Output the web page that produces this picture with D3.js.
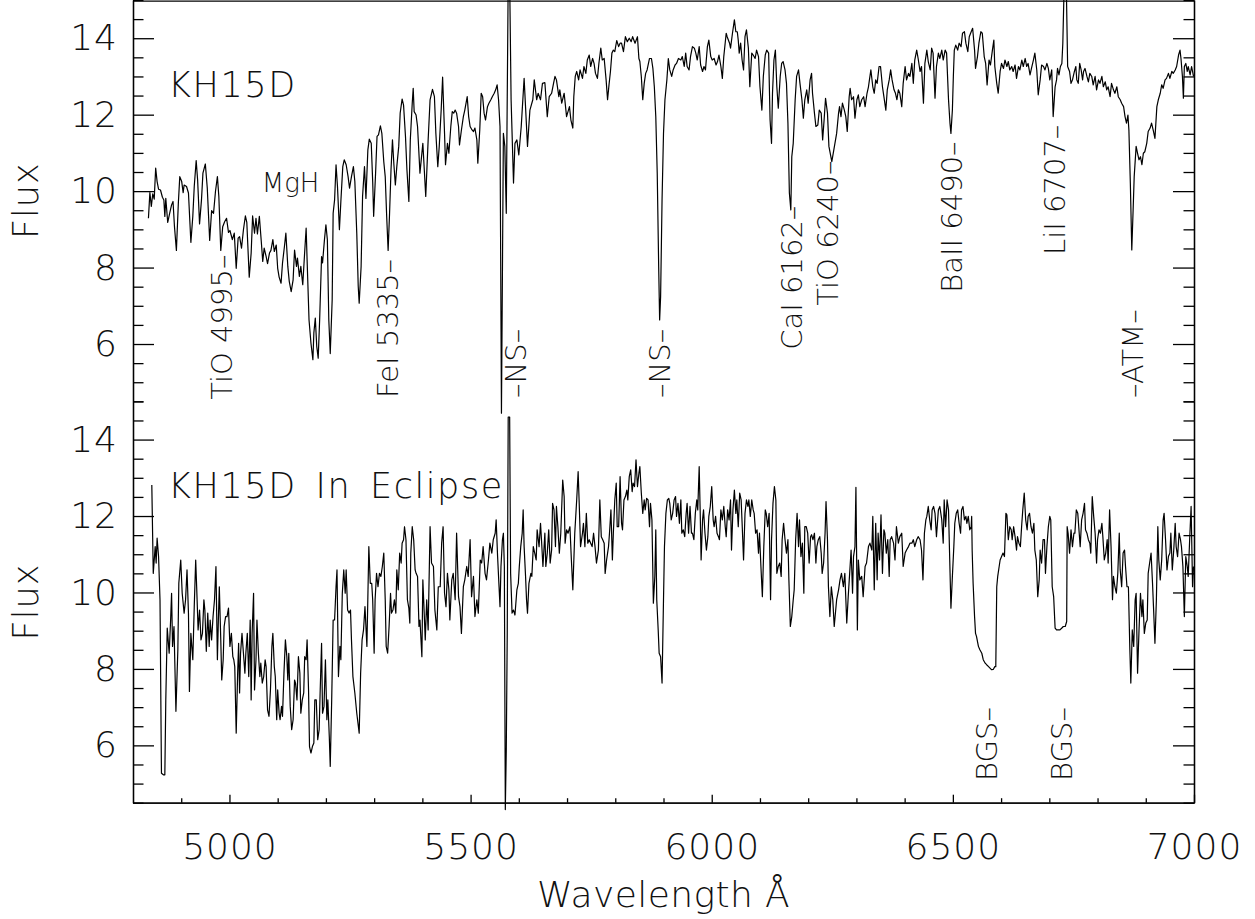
<!DOCTYPE html>
<html><head><meta charset="utf-8">
<script src="https://cdn.jsdelivr.net/npm/d3@7"></script>
<style>
body{margin:0;background:#fff}
text{font-family:"DejaVu Sans",sans-serif;font-weight:200;fill:#111}
</style>
</head><body>
<svg id="chart" width="1255" height="919"></svg>
<script>
// ---- Spectrum of KH15D (out of eclipse) ----
const topWave = [4832,4835,4838,4841,4844,4847,4850,4853,4857,4861,4864,4866,4868,4872,4876,4880,4883,4886,4890,4894,4897,4901,4904,4906,4911,4915,4920,4924,4927,4931,4934,4938,4942,4945,4950,4954,4959,4963,4967,4971,4975,4978,4982,4986,4990,4994,4998,5001,5006,5010,5014,5018,5021,5025,5029,5033,5036,5041,5045,5048,5052,5055,5058,5062,5066,5069,5072,5076,5079,5083,5086,5090,5093,5097,5100,5103,5107,5110,5114,5117,5121,5124,5128,5132,5135,5139,5141,5145,5148,5152,5155,5159,5161,5165,5169,5173,5175,5178,5181,5184,5187,5191,5193,5197,5200,5203,5206,5209,5213,5215,5218,5221,5224,5228,5231,5235,5238,5242,5246,5249,5253,5257,5260,5264,5267,5269,5273,5276,5280,5283,5287,5290,5294,5297,5299,5303,5306,5309,5313,5316,5320,5323,5326,5329,5332,5335,5338,5341,5344,5347,5351,5354,5358,5361,5365,5368,5372,5375,5379,5381,5383,5387,5390,
5395,5401,5407,5412,5416,5421,5425,5428,5432,5435,5439,5442,5446,5448,5452,5455,5459,5462,5465,5468,5471,5475,5477,5481,5485,5488,5493,5496,5499,5503,5506,5509,5513,5515,5519,5522,5525,5528,5531,5535,5538,5542,5545,5549,5552,5555,5558,5561,5564,5568,5571,5574,5578,5581,5584,5589,5592,5596,5600,5605,5611,5618,5623,5629,5632,5637,5640,5645,5649,5654,5659,5663,5668,5672,5675,5678,5683,5685,5689,5694,5699,5705,5708,5712,5714,5717,5720,5724,5727,5732,5735,5739,5742,5746,5749,5753,5756,5759,5763,5766,5770,5773,5777,5781,5784,5787,5790,5793,5796,5799,5803,5807,5810,5813,5817,5821,5825,5829,5833,5836,5841,5846,5849,5851,5854,5857,5860,5863,5866,5871,5875,5878,5881,5884,5887,5890,5892,5894,5897,5900,5903,5907,5910,5913,5917,5920,5924,5927,5931,5936,5939,5943,5946,5949,5953,5956,5960,5964,5967,5970,5974,5977,5981,5984,5987,5991,5994,5998,6001,6005,6009,6012,6015,6019,6022,6025,6030,6032,6037,6039,6043,6047,6050,6053,6055,6057,6060,6063,6066,6069,6072,6076,6079,6083,6086,6090,6093,6097,6100,6104,6107,6111,6114,6118,6121,6124,6126,6129,6132,6135,6138,6142,6145,6148,6152,6155,6158,6161,6164,6166,6169,6173,6176,6180,6183,6187,6190,6193,6197,6200,6204,6207,6209,6213,6216,6220,6223,6227,6230,6233,6236,6240,6243,6249,
6259,6263,6265,6268,6271,6275,6278,6281,6285,6287,6290,6294,6297,6301,6304,6307,6311,6315,6318,6322,6325,6327,6330,6334,6337,6340,6343,6347,6350,6354,6357,6361,6364,6368,6371,6374,6378,6381,6384,6387,6390,6394,6397,6401,6404,6408,6411,6415,6418,6421,6425,6428,6432,6435,6439,6442,6446,6449,6453,6456,6459,6463,6466,6470,6473,6477,6480,6484,6487,6491,6494,6496,6499,6501,6503,6506,6510,6513,6517,6520,6524,6527,6531,6534,6538,6541,6545,6547,6551,6554,6558,6561,6565,6568,6571,6575,6578,6582,6585,6587,6591,6594,6598,6601,6605,6608,6612,6615,6618,6622,6625,6629,6632,6636,6639,6643,6646,6650,6653,6656,6660,6663,6667,6670,6674,6677,6681,6684,6688,6691,6695,6698,6701,6705,6708,6712,6715,6717,6720,6723,6726,6728,6731,6735,6738,6742,6745,6748,6752,6755,6757,6760,6763,6766,6769,6771,6774,6778,6781,6784,6788,6791,6795,6798,6802,6805,6809,6812,6816,6819,6822,6826,6829,6833,6836,6840,6843,6847,6850,6854,6857,6860,6863,6865,6868,6871,6874,6876,6880,6883,6886,6889,6892,6895,6898,6902,6905,6909,6912,6916,6919,6923,6926,6930,6933,6936,6940,6943,6947,6950,6954,6957,6961,6964,6968,6971,6973,6976,6978,6980,6983,6986,6988,6992,6995,6999];
const topFlux = [9.29,9.96,9.60,9.93,9.79,10.60,10.25,10.05,10.03,9.84,9.77,9.34,9.81,9.18,9.42,9.64,9.73,9.07,8.45,9.68,10.38,10.25,9.96,10.16,10.12,9.95,8.66,9.34,10.12,10.80,10.29,9.14,9.77,10.47,10.71,10.08,8.71,9.49,9.42,9.99,10.38,9.86,8.45,9.07,9.20,9.29,8.92,8.97,8.73,8.90,7.98,8.77,8.81,8.51,8.99,9.35,9.18,7.75,8.38,9.35,8.90,9.29,8.88,9.34,8.68,8.16,8.51,8.29,8.10,8.38,8.45,8.73,8.42,8.59,7.98,7.75,7.59,8.12,8.55,8.90,8.03,7.64,7.37,7.68,8.46,8.03,8.25,7.77,8.03,7.55,8.20,9.03,8.20,6.63,6.02,5.59,6.29,6.68,5.94,5.63,6.63,8.29,8.12,8.73,9.12,8.73,6.63,5.75,7.16,9.42,9.77,10.69,10.12,8.99,9.73,10.64,10.82,10.69,10.38,10.08,10.38,10.64,10.25,8.90,7.51,7.07,8.03,9.86,10.64,9.81,11.08,11.36,11.25,10.25,9.34,10.47,11.43,11.47,11.71,11.51,10.77,10.38,9.34,8.45,9.42,10.56,11.34,10.69,10.16,10.64,11.17,12.04,12.41,12.25,11.43,10.56,9.73,11.34,12.30,12.69,12.08,11.99,11.69,
10.47,11.25,9.86,11.34,12.39,12.66,12.47,11.51,10.64,11.17,12.12,12.98,11.51,10.69,11.25,10.99,11.69,12.08,12.04,12.12,12.04,11.69,11.21,11.60,11.95,12.12,12.47,11.95,11.69,11.60,11.56,11.65,11.34,10.73,11.60,12.56,12.47,12.04,11.86,12.21,12.30,12.39,12.47,12.56,12.65,12.78,12.39,11.69,4.19,11.51,11.17,9.42,15.52,15.52,12.39,10.21,11.25,11.34,10.95,11.69,12.95,11.17,12.12,12.39,12.91,12.39,12.56,12.39,12.82,12.84,11.95,12.47,12.56,12.82,13.00,12.91,12.47,12.65,12.30,12.56,11.95,12.21,11.86,11.65,12.47,13.00,13.13,12.91,13.17,12.95,13.26,13.08,13.43,13.56,13.26,13.47,13.34,13.08,12.95,13.34,13.74,13.43,13.47,12.91,12.39,12.78,13.13,13.61,13.69,13.65,13.94,13.78,13.87,13.87,13.65,14.04,13.91,14.00,13.91,14.04,13.87,14.04,13.47,13.39,13.00,12.39,12.82,13.08,13.17,13.47,13.47,13.21,12.73,11.95,10.47,8.03,6.63,7.24,9.77,11.51,12.39,12.91,13.47,13.17,13.00,13.17,13.30,13.34,13.47,13.43,13.52,13.26,13.61,13.26,13.17,13.52,13.78,13.74,13.61,13.43,13.78,13.30,13.13,13.26,13.17,13.78,13.95,13.52,13.43,13.47,13.30,13.39,13.56,13.26,12.95,13.52,14.13,14.04,13.87,13.74,14.13,14.48,14.17,14.17,13.95,13.61,13.87,13.43,13.17,14.04,14.22,13.74,12.73,13.61,13.56,13.47,13.69,13.52,12.73,12.12,13.00,13.56,13.69,13.61,11.86,11.25,12.56,13.43,13.69,12.73,12.17,13.00,13.34,13.39,13.17,12.82,11.78,9.95,9.51,10.90,11.25,12.39,13.00,13.17,12.82,12.39,11.91,12.39,12.65,12.30,12.91,13.08,12.56,12.04,11.69,11.73,12.12,12.04,11.34,11.86,12.43,12.04,11.17,10.77,
11.51,12.04,12.21,11.95,12.30,12.12,11.95,11.56,12.47,12.69,12.39,12.47,11.91,12.39,12.52,12.21,12.39,12.47,12.21,12.56,12.73,12.91,13.17,12.73,12.56,12.91,12.82,13.26,13.26,12.73,12.47,12.12,12.65,12.91,13.17,12.91,12.65,12.56,12.39,12.65,12.56,12.21,12.82,13.26,12.91,13.08,13.00,13.34,12.82,13.43,13.69,13.47,13.13,13.26,12.30,13.34,13.69,13.39,13.17,13.74,13.61,12.43,13.26,13.61,13.47,13.69,13.43,13.69,13.61,12.39,11.78,11.51,12.12,13.00,13.69,13.82,13.69,13.87,13.78,14.13,14.17,13.87,13.65,14.04,14.17,14.26,13.69,13.21,13.52,13.87,14.17,14.13,13.52,13.34,12.78,13.43,13.30,13.69,13.95,13.26,12.82,12.56,13.13,13.34,13.21,13.43,13.26,13.39,13.17,13.26,13.13,13.30,12.95,13.26,13.17,13.43,13.26,13.47,13.26,13.34,13.04,13.21,13.43,13.61,13.17,12.52,12.91,13.30,13.26,13.17,13.34,13.21,12.91,13.17,11.95,12.73,12.91,13.21,13.04,13.26,13.34,13.87,15.52,15.52,13.26,13.13,12.82,12.91,13.13,13.26,12.91,12.82,13.34,13.17,12.91,13.13,13.21,13.00,12.86,13.08,13.00,12.78,13.00,12.65,12.91,12.82,13.00,12.73,12.86,12.65,12.73,12.47,12.82,12.65,12.56,12.73,12.47,12.39,12.30,12.21,11.95,11.78,11.99,11.60,10.21,8.46,9.60,10.38,11.17,10.99,10.82,10.90,10.69,10.99,11.03,11.25,11.56,11.65,11.78,11.56,11.38,12.21,12.39,12.56,12.78,12.69,12.91,12.95,13.08,12.95,13.13,13.08,13.17,13.26,13.56,13.69,13.47,13.00,12.43,13.26,13.34,13.13,13.26,13.04,13.26,13.00];

// ---- Spectrum of KH15D in eclipse ----
const eclWave = [4839,4842,4846,4848,4850,4853,4856,4859,4863,4866,4868,4871,4875,4878,4880,4882,4885,4889,4893,4895,4899,4902,4906,4909,4912,4915,4917,4920,4924,4927,4930,4932,4935,4938,4941,4944,4947,4949,4952,4955,4958,4960,4963,4966,4969,4972,4975,4977,4979,4982,4984,4987,4989,4992,4995,4998,5001,5004,5007,5009,5011,5014,5017,5019,5021,5023,5026,5029,5032,5034,5037,5040,5043,5045,5047,5050,5052,5055,5057,5060,5063,5065,5068,5071,5074,5076,5079,5082,5085,5088,5090,5093,5095,5098,5100,5103,5105,5108,5110,5113,5116,5119,5121,5123,5126,5129,5132,5135,5137,5140,5143,5146,5148,5151,5154,5156,5159,5161,5164,5166,5169,5172,5175,5177,5180,5183,5186,5188,5191,5193,5196,5199,5202,5204,5207,5209,5212,5215,5218,5221,5223,5226,5229,5231,5234,5237,5240,5242,5245,5248,5251,5253,5256,5260,5264,5269,5272,5275,5278,5281,5285,5287,5289,5292,5295,5297,5300,5302,5305,5308,5311,5314,5317,5320,5323,5325,5328,5331,5334,5336,5339,5342,5345,5347,5350,5353,5356,5358,5361,5363,5366,5369,5372,5374,5376,5379,5382,5385,5387,5390,5393,
5395,5399,5401,5403,5406,5409,5412,5416,5419,5423,5426,5430,5433,5437,5440,5443,5446,5449,5452,5455,5457,5461,5464,5468,5471,5475,5478,5481,5485,5488,5492,5495,5499,5502,5506,5509,5513,5516,5520,5523,5526,5530,5533,5537,5540,5544,5547,5551,5553,5556,5559,5561,5563,5566,5568,5570,5572,5574,5576,5578,5581,5583,5586,5589,5592,5596,5599,5601,5604,5607,5609,5611,5614,5616,5618,5621,5625,5627,5630,5633,5636,5638,5642,5645,5647,5650,5654,5656,5659,5662,5665,5668,5670,5673,5676,5678,5681,5684,5687,5691,5694,5696,5699,5702,5706,5709,5712,5716,5720,5723,5725,5728,5732,5734,5737,5740,5743,5746,5749,5752,5755,5758,5761,5765,5768,5771,5774,5777,5779,5782,5786,5788,5791,5794,5796,5799,5802,5804,5807,5810,5813,5815,5818,5821,5824,5826,5829,5832,5835,5837,5840,5843,5846,5849,5851,5854,5857,5860,5862,5865,5868,5871,5873,5876,5879,5882,5884,5886,5889,5891,5894,5897,5900,5902,5905,5908,5911,5913,5916,5919,5922,5925,5927,5930,5933,5936,5938,5941,5944,5947,5949,5952,5955,5958,5960,5963,5966,5969,5971,5974,5976,5978,5981,5983,5986,5989,5992,5994,5997,6000,6003,6005,6008,6011,6014,6016,6019,6022,6025,6028,6030,6033,6036,6039,6041,6044,6047,6050,6052,6055,6058,6061,6063,6066,6069,6072,6075,6077,6080,6083,6086,6088,6091,6094,6097,6099,6102,6105,6108,6111,6113,6116,6119,6122,6124,6127,6130,6133,6135,6138,6141,6144,6146,6149,6152,6155,6158,6160,6163,6166,6169,6171,6174,6177,6180,6182,6185,6188,6191,6193,6196,6199,6202,6205,6207,6210,6213,6216,6218,6221,6224,6227,6229,6232,6235,6237,6240,6242,6245,6248,6251,6254,
6259,6263,6266,6269,6273,6276,6280,6283,6286,6289,6292,6294,6297,6299,6302,6304,6307,6311,6314,6318,6321,6325,6328,6332,6334,6337,6340,6343,6345,6348,6351,6354,6357,6359,6362,6365,6368,6370,6373,6377,6380,6383,6387,6390,6394,6397,6401,6404,6408,6411,6415,6418,6421,6425,6428,6432,6435,6438,6441,6444,6446,6449,6452,6455,6457,6460,6463,6466,6470,6473,6477,6480,6482,6485,6488,6491,6493,6496,6499,6502,6504,6507,6510,6513,6516,6518,6521,6524,6527,6529,6532,6535,6538,6539,6540,6542,6545,6547,6549,6553,6556,6560,6563,6567,6570,6574,6577,6580,6584,6587,6589,6591,6593,6596,6598,6601,6604,6607,6610,6612,6615,6618,6621,6623,6626,6629,6632,6634,6637,6640,6643,6645,6648,6651,6654,6656,6659,6662,6665,6668,6670,6673,6676,6679,6681,6684,6687,6690,6692,6695,6698,6701,6703,6706,6709,6712,6715,6719,6722,6726,6729,6733,6736,6737,6739,6742,6745,6748,6751,6753,6756,6759,6762,6764,6767,6770,6773,6775,6778,6781,6784,6786,6789,6792,6795,6798,6800,6803,6806,6809,6811,6814,6817,6820,6822,6825,6828,6831,6833,6836,6839,6842,6845,6847,6850,6853,6856,6858,6861,6864,6867,6869,6872,6875,6878,6880,6883,6886,6889,6892,6894,6897,6900,6903,6905,6908,6911,6914,6916,6919,6922,6925,6927,6930,6933,6936,6938,6941,6944,6947,6950,6952,6955,6958,6961,6963,6966,6969,6972,6974,6977,6980,6983,6986,6988,6991,6994,6997,6999];
const eclFlux = [12.81,10.50,11.20,10.77,11.42,10.94,9.81,5.27,5.23,5.23,7.19,9.07,8.41,9.28,9.98,8.59,9.11,6.89,8.50,10.24,10.85,9.98,9.46,9.81,10.59,9.46,7.41,8.93,8.24,9.63,10.85,10.15,9.02,9.54,8.76,8.93,9.81,9.54,8.46,9.46,8.59,9.28,8.76,9.37,9.81,10.68,8.24,9.28,10.15,8.76,7.71,8.24,9.11,9.37,9.37,9.59,8.59,8.93,8.32,8.24,8.06,6.32,7.89,8.67,7.37,8.41,8.93,8.41,7.89,8.41,8.93,7.80,9.28,7.19,8.93,9.98,7.45,8.24,9.28,8.41,7.80,8.15,7.63,7.80,8.24,8.06,6.93,6.76,7.45,8.59,8.93,8.06,7.80,6.67,7.45,6.84,6.67,7.02,6.76,7.89,8.76,8.32,7.71,8.41,7.02,6.41,6.67,7.71,7.63,7.19,8.32,7.89,6.84,7.19,7.37,8.32,8.24,8.76,7.45,5.97,5.80,5.97,6.06,7.19,7.19,6.15,6.41,7.37,8.67,6.84,7.02,8.24,6.67,7.19,6.23,5.45,7.19,9.28,9.28,10.15,10.59,7.80,8.59,8.24,9.98,10.59,9.98,10.59,9.54,9.46,9.54,8.76,7.80,7.37,6.84,6.32,7.89,8.76,9.02,9.63,8.59,9.89,11.20,10.24,10.24,9.81,8.41,9.81,10.50,10.15,10.50,10.42,10.68,11.03,9.81,8.59,8.41,9.11,9.98,9.46,9.54,9.81,9.46,10.59,10.07,11.03,10.77,11.29,11.38,11.72,11.38,9.81,9.59,9.20,11.03,11.72,11.38,10.59,10.50,10.42,9.11,
9.28,8.32,10.33,9.72,8.76,9.81,9.02,11.72,10.77,10.68,9.54,9.02,10.15,10.15,11.29,11.72,9.98,9.63,10.50,10.07,9.28,10.33,10.50,9.81,11.55,9.89,9.63,8.93,10.15,10.33,10.68,10.42,11.38,9.89,10.42,9.37,9.81,9.46,10.85,10.77,11.20,10.50,10.33,10.85,11.29,11.03,11.38,11.55,11.90,10.94,10.15,9.63,10.68,11.38,11.55,10.68,4.32,5.88,8.93,14.59,14.59,10.50,9.46,9.54,9.41,10.07,10.24,10.68,11.20,11.55,12.16,11.20,10.42,9.81,9.46,10.24,10.50,10.42,11.20,11.03,10.85,11.64,11.20,11.81,11.38,10.68,11.55,10.68,11.03,11.64,10.77,11.11,12.33,12.16,11.20,12.25,11.72,11.03,11.55,12.94,12.51,11.29,11.64,11.55,11.72,10.85,10.07,11.55,12.42,13.16,12.42,11.20,11.55,11.81,11.20,12.07,11.29,11.38,11.29,11.20,11.55,11.20,10.77,11.11,12.42,11.46,11.38,11.29,10.50,10.85,11.20,11.55,12.16,10.85,11.55,12.42,12.86,11.72,11.72,13.03,11.81,11.64,12.42,12.51,12.68,12.42,13.03,13.21,12.64,12.86,12.77,13.47,12.77,13.12,13.29,12.60,12.07,12.42,12.16,12.46,12.42,11.72,12.33,11.90,9.72,10.42,11.64,9.81,9.02,8.41,8.32,7.63,9.81,11.20,12.07,12.42,12.46,12.33,11.90,12.07,12.42,12.51,11.99,12.33,11.81,12.42,11.55,11.64,11.46,12.07,12.33,11.55,12.25,11.55,11.55,11.38,12.07,12.42,12.16,13.29,12.16,10.85,11.90,12.16,11.55,11.11,11.46,11.99,12.25,12.77,11.90,11.72,11.99,11.55,11.46,11.38,12.16,11.90,12.25,11.72,11.46,12.16,11.90,12.42,11.11,12.16,12.68,12.07,12.42,11.72,12.60,12.42,11.81,10.85,12.07,12.42,12.25,12.42,11.99,12.42,12.16,12.07,11.55,11.64,11.03,11.55,10.68,9.89,11.20,12.16,12.07,11.72,12.07,9.81,11.38,12.33,12.77,12.42,10.50,10.68,10.77,10.42,11.38,11.81,11.38,11.03,11.38,10.33,9.11,9.37,9.81,10.07,11.38,12.07,11.20,11.90,10.94,11.29,9.98,11.72,11.72,11.55,10.77,11.46,11.51,11.38,11.55,10.77,11.20,11.38,11.46,11.03,10.50,10.77,11.55,12.38,11.38,10.15,9.37,10.15,9.81,9.11,
9.81,10.07,10.33,10.50,10.15,10.50,9.20,9.89,10.50,11.11,9.98,10.94,11.20,12.75,9.02,10.85,10.33,10.42,9.89,10.68,10.77,11.20,11.29,11.11,11.99,10.07,11.81,10.33,11.55,10.85,12.03,10.50,11.64,11.55,11.03,11.38,10.42,11.38,11.46,11.29,10.85,11.72,11.29,11.46,11.55,10.68,11.03,11.11,11.20,11.29,11.29,11.38,11.20,11.38,11.46,11.38,11.11,10.33,11.55,11.90,11.99,12.25,11.90,11.64,12.16,12.25,12.07,11.46,12.16,12.25,11.90,11.29,12.42,11.72,12.42,12.16,11.11,9.59,10.42,11.20,11.81,12.07,12.16,11.81,11.55,12.16,12.25,11.90,11.99,11.81,11.99,11.64,11.72,11.99,11.11,10.24,9.37,8.93,8.85,8.59,8.50,8.41,8.24,8.15,8.11,8.06,8.02,7.98,7.99,8.06,8.06,10.15,10.42,10.68,10.85,10.94,11.03,10.94,12.07,12.03,11.38,11.72,11.64,11.38,11.72,11.46,11.11,11.46,11.29,11.20,11.81,12.16,12.60,11.90,11.64,11.99,12.07,11.72,11.55,11.81,11.11,10.85,9.89,10.33,11.11,10.77,11.38,11.38,10.50,11.20,11.72,11.99,11.90,10.15,9.89,9.07,9.02,9.02,9.02,9.07,9.11,9.11,9.24,11.72,11.55,11.03,11.64,11.20,11.55,11.55,12.16,12.07,11.55,11.20,11.90,12.07,12.33,11.64,11.55,11.38,11.29,11.03,12.51,11.99,11.55,10.77,11.38,11.64,11.55,11.81,11.46,10.85,11.03,11.38,10.77,12.16,11.20,9.81,10.42,10.15,9.98,10.50,11.55,10.59,10.15,11.03,11.11,10.68,10.15,10.15,8.50,7.63,9.02,8.59,9.81,9.98,7.89,9.02,9.98,9.37,9.81,8.93,9.20,9.28,10.50,10.77,11.03,10.24,9.63,8.67,9.81,11.72,10.85,10.33,10.85,11.90,12.07,11.38,10.59,10.94,11.03,11.55,10.59,11.11,11.81,11.20,10.94,11.55,11.38,11.20,10.68,9.37,10.94,10.68,10.42,11.38,12.25,10.15,10.68];

// ---- Axes ----
const xDomain = [4800, 7000];
const yDomain = [4.5, 15];
const xTicksMajor = [5000, 5500, 6000, 6500, 7000];
const xTicksMinor = [4900, 5100, 5200, 5300, 5400, 5600, 5700, 5800, 5900, 6100, 6200, 6300, 6400, 6600, 6700, 6800, 6900];
const yTicksMajor = [6, 8, 10, 12, 14];
const yTicksMinor = [4.5, 5, 5.5, 6.5, 7, 7.5, 8.5, 9, 9.5, 10.5, 11, 11.5, 12.5, 13, 13.5, 14.5, 15];
const xTitle = "Wavelength Å";
const yTitle = "Flux";
const panelTitles = ["KH15D", "KH15D In Eclipse"];

// ---- Line identifications (text, wavelength, flux at text start, panel) ----
const lineLabels = [
  {text: "TiO 4995–", wave: 5005, flux: 4.54, panel: 0},
  {text: "FeI 5335–", wave: 5349, flux: 4.59, panel: 0},
  {text: "–NS–", wave: 5615, flux: 4.59, panel: 0},
  {text: "–NS–", wave: 5913, flux: 4.59, panel: 0},
  {text: "CaI 6162–", wave: 6187, flux: 5.85, panel: 0},
  {text: "TiO 6240–", wave: 6262, flux: 7.0, panel: 0},
  {text: "BaII 6490–", wave: 6519, flux: 7.34, panel: 0},
  {text: "LiI 6707–", wave: 6732, flux: 8.33, panel: 0},
  {text: "–ATM–", wave: 6894, flux: 4.59, panel: 0},
  {text: "BGS–", wave: 6591, flux: 5.07, panel: 1},
  {text: "BGS–", wave: 6747, flux: 5.07, panel: 1}
];
const bandLabels = [{text: "MgH", wave: 5067, flux: 9.98, panel: 0}];

// ---- Drawing ----
const svg = d3.select("#chart");
const L = 133, R = 1194, T = 0, H = 401.35;
const x = d3.scaleLinear().domain(xDomain).range([L, R]);
const ys = [
  d3.scaleLinear().domain(yDomain).range([T + H, T]),
  d3.scaleLinear().domain(yDomain).range([T + 2 * H, T + H])
];
const spectra = [
  d3.zip(topWave, topFlux),
  d3.zip(eclWave, eclFlux)
];

function styleAxis(g) {
  g.selectAll("path,line").attr("stroke", "#000").attr("stroke-width", 1.3);
  g.selectAll("text").attr("font-size", 36).attr("font-family", "DejaVu Sans")
    .attr("font-weight", 200).attr("fill", "#111").attr("letter-spacing", 1);
}

ys.forEach((y, i) => {
  svg.append("g").attr("transform", `translate(${L},0)`)
    .call(d3.axisLeft(y).tickValues(yTicksMajor).tickSize(-21).tickSizeOuter(0).tickPadding(15).tickFormat(d3.format("d")))
    .call(styleAxis);
  svg.append("g").attr("transform", `translate(${L},0)`)
    .call(d3.axisLeft(y).tickValues(yTicksMinor).tickSize(-10.5).tickSizeOuter(0).tickFormat(""))
    .call(styleAxis);
  svg.append("g").attr("transform", `translate(${R},0)`)
    .call(d3.axisRight(y).tickValues(yTicksMajor).tickSize(-21).tickSizeOuter(0).tickFormat(""))
    .call(styleAxis);
  svg.append("g").attr("transform", `translate(${R},0)`)
    .call(d3.axisRight(y).tickValues(yTicksMinor).tickSize(-10.5).tickSizeOuter(0).tickFormat(""))
    .call(styleAxis);

  const cy = (y.range()[0] + y.range()[1]) / 2;
  svg.append("text").attr("transform", `translate(38,${cy}) rotate(-90)`)
    .attr("text-anchor", "middle").attr("font-size", 35).attr("letter-spacing", 1).text(yTitle);

  svg.append("text").attr("x", L + 35).attr("y", y.range()[1] + 97)
    .attr("font-size", 35).attr("letter-spacing", 1.6).attr("word-spacing", 6).text(panelTitles[i]);

  svg.append("path").datum(spectra[i])
    .attr("fill", "none").attr("stroke", "#000").attr("stroke-width", 1.2)
    .attr("stroke-linejoin", "round")
    .attr("d", d3.line().x(d => x(d[0])).y(d => y(d[1])));
});

svg.append("g").attr("transform", `translate(0,${T + 0.6})`)
  .call(d3.axisTop(x).tickValues([]).tickSizeOuter(0)).call(styleAxis);

const yb = T + 2 * H;
svg.append("g").attr("transform", `translate(0,${yb})`)
  .call(d3.axisBottom(x).tickValues(xTicksMajor).tickSize(-8).tickSizeOuter(0).tickPadding(31).tickFormat(d3.format("d")))
  .call(styleAxis);
svg.append("g").attr("transform", `translate(0,${yb})`)
  .call(d3.axisBottom(x).tickValues(xTicksMinor).tickSize(-4.5).tickSizeOuter(0).tickFormat(""))
  .call(styleAxis);

svg.append("text").attr("x", (L + R) / 2).attr("y", 907)
  .attr("text-anchor", "middle").attr("font-size", 36).attr("letter-spacing", 0.4).text(xTitle);

lineLabels.forEach(d => {
  svg.append("text")
    .attr("transform", `translate(${x(d.wave)},${ys[d.panel](d.flux)}) rotate(-90)`)
    .attr("font-size", 29).text(d.text);
});
bandLabels.forEach(d => {
  svg.append("text").attr("x", x(d.wave)).attr("y", ys[d.panel](d.flux))
    .attr("font-size", 26).text(d.text);
});
</script>
</body></html>
